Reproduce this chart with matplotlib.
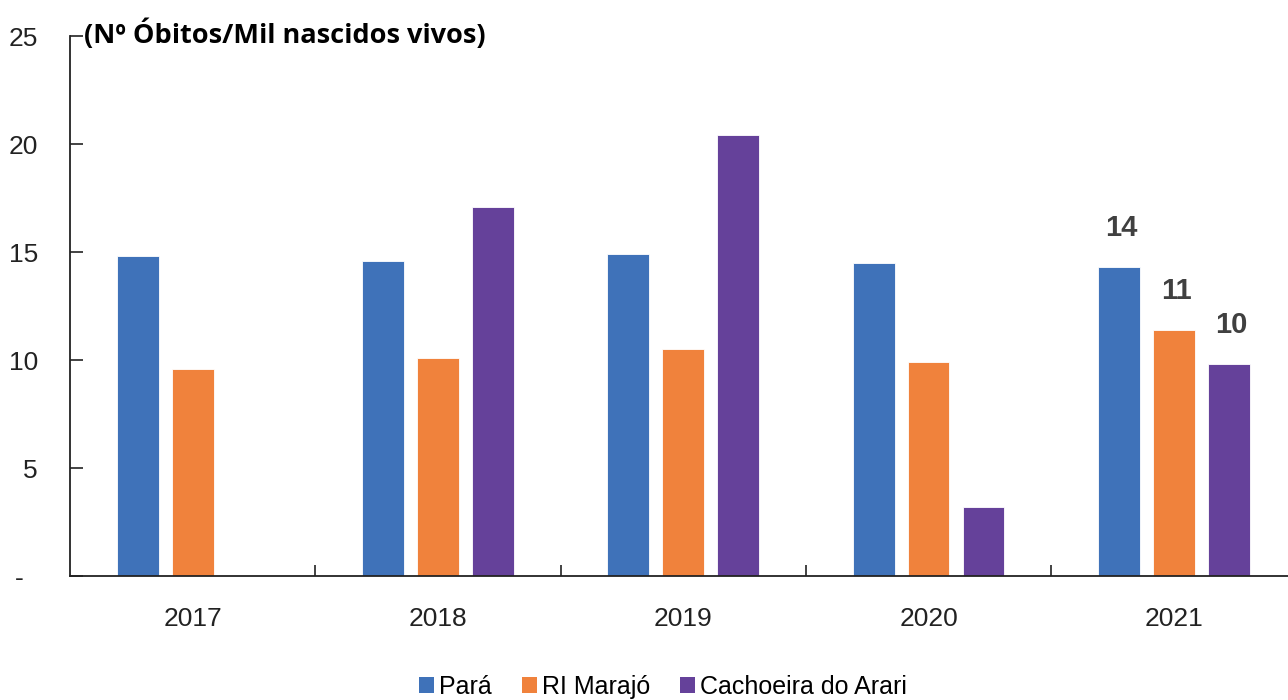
import numpy as np
import matplotlib
matplotlib.use("Agg")
import matplotlib.pyplot as plt
from matplotlib.patches import Patch

years = ["2017", "2018", "2019", "2020", "2021"]
para = [14.8, 14.6, 14.9, 14.5, 14.3]
marajo = [9.6, 10.1, 10.5, 9.9, 11.4]
cachoeira = [0, 17.1, 20.4, 3.2, 9.8]
labels_2021 = ["14", "11", "10"]
series_names = ["Pará", "RI Marajó", "Cachoeira do Arari"]
colors = ["#3F72B9", "#F0823C", "#65419A"]

narrow = ["Liberation Sans", "DejaVu Sans"]

fig = plt.figure(figsize=(12.88, 7), dpi=100)
ax = fig.add_axes([70 / 1288, 1 - 576 / 700, 1 - 70 / 1288, (576 - 36) / 700])

x = np.arange(len(years))
w = 0.17
off = 0.224
for i, (vals, c) in enumerate(zip([para, marajo, cachoeira], colors)):
    xs = x + (i - 1) * off
    ax.bar(xs, vals, width=w, color=c, edgecolor="white", linewidth=0.6)
    ax.text(xs[-1] + 0.01, vals[-1] + 1.15, labels_2021[i], ha="center", va="bottom",
            fontsize=21, fontweight="bold", color="#404040", family=narrow)

ax.set_xlim(-0.5, 4.465)
ax.set_ylim(0, 25)
ax.set_yticks([0, 5, 10, 15, 20, 25])
ax.set_yticklabels(["-  ", "5", "10", "15", "20", "25"], family=narrow, fontsize=19, color="#222222")
ax.tick_params(axis="y", direction="in", length=9, width=1.2, color="#222222", pad=23)

ax.set_xticks(x)
ax.set_xticklabels(years, family=narrow, fontsize=19, color="#222222")
ax.tick_params(axis="x", which="major", length=0, pad=22)
ax.set_xticks(x[:-1] + 0.5, minor=True)
ax.tick_params(axis="x", which="minor", direction="in", length=8, width=1.2, color="#222222")

for s in ["top", "right"]:
    ax.spines[s].set_visible(False)
for s in ["left", "bottom"]:
    ax.spines[s].set_linewidth(1.3)
    ax.spines[s].set_color("#222222")

fig.text(84 / 1288, 1 - 34 / 700, "(Nº Óbitos/Mil nascidos vivos)", ha="left", va="center",
         fontsize=19.5, fontweight="bold", family=["Open Sans", "DejaVu Sans"], color="black")

handles = [Patch(facecolor=c, edgecolor="none") for c in colors]
fig.legend(handles, series_names, loc="center", bbox_to_anchor=(0.515, 1 - 687 / 700), ncol=3,
           frameon=False, prop={"family": narrow, "size": 18}, handlelength=0.6, handleheight=0.6,
           handletextpad=0.2, columnspacing=1.2)

fig.savefig("out.png", dpi=100)
